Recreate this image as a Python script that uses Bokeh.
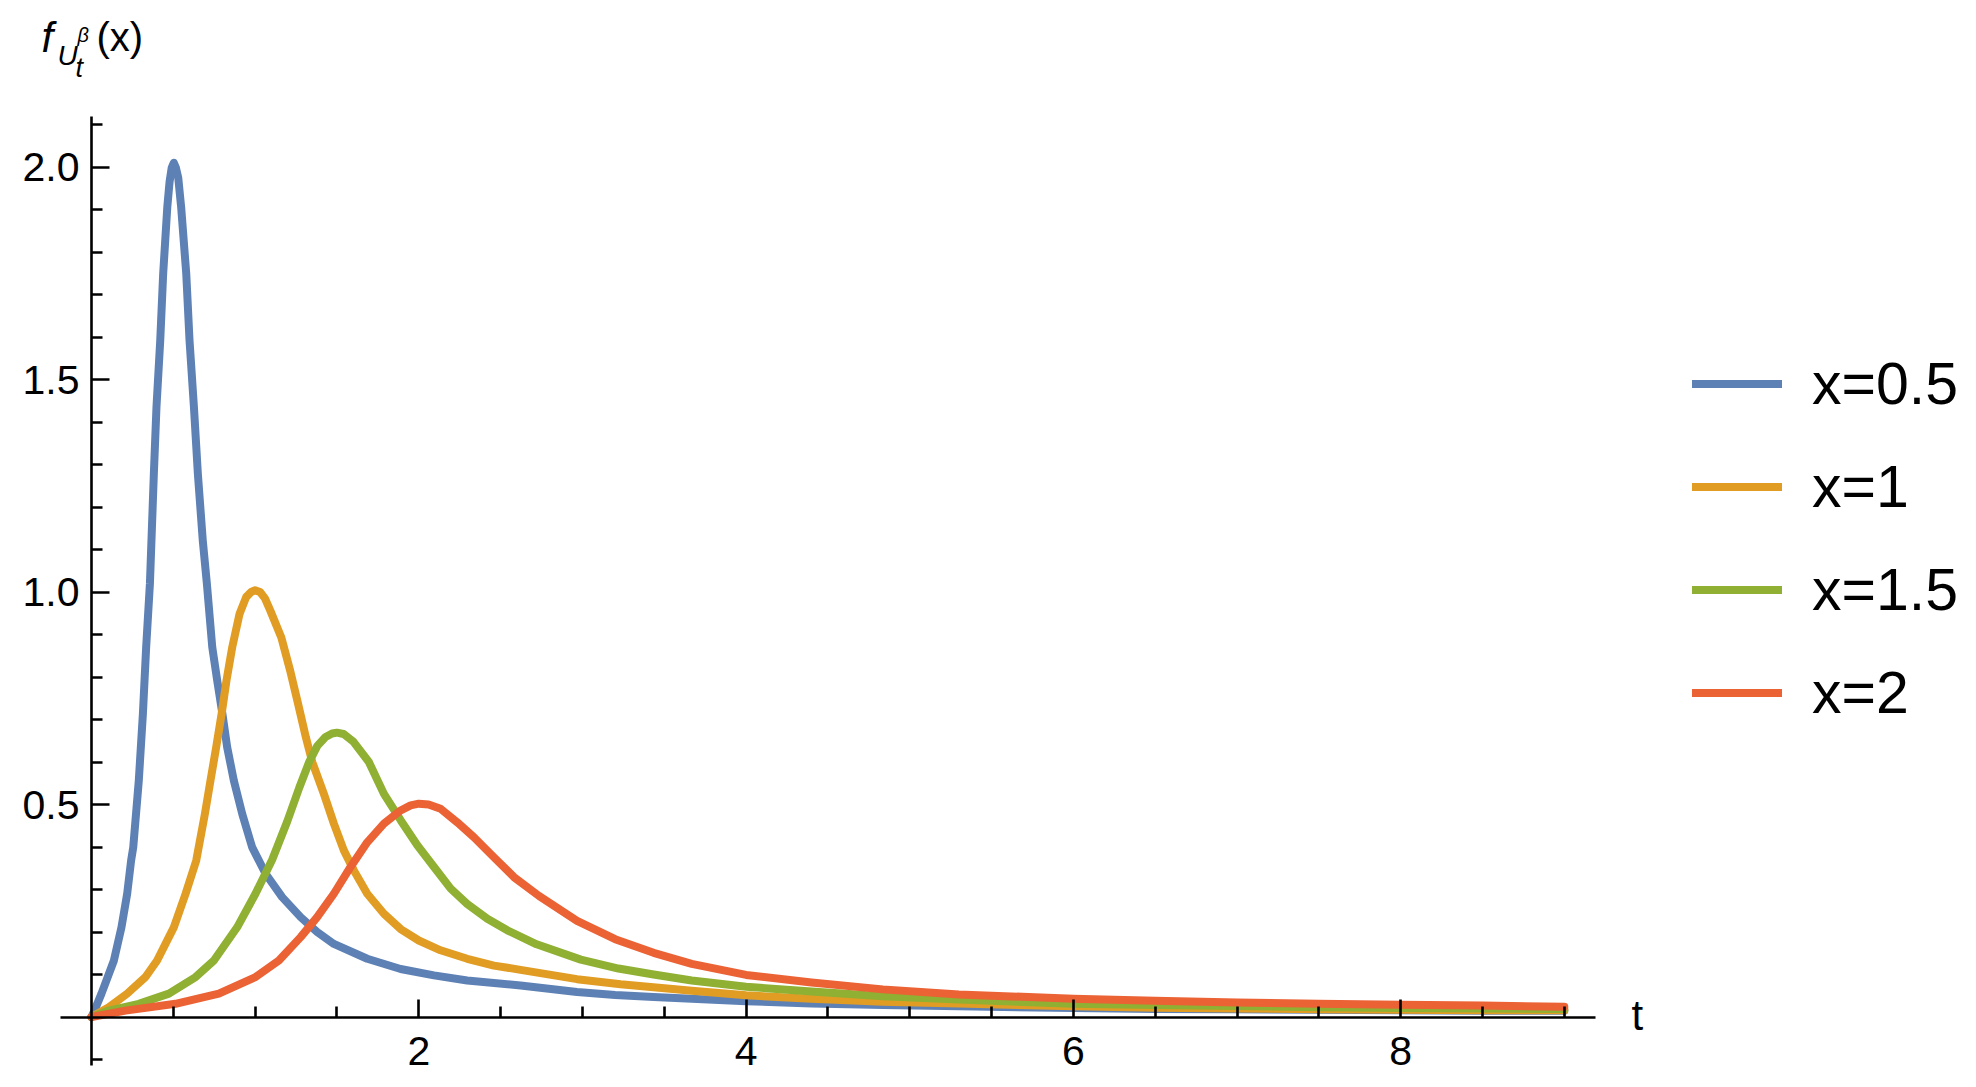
from bokeh.plotting import figure
from bokeh.models import (Range1d, FixedTicker, PrintfTickFormatter, Legend, LegendItem,
                          Label, ColumnDataSource)
from bokeh.embed import file_html
from bokeh.resources import INLINE

# ---------------- data ----------------
t_a = [0, 0.018, 0.061, 0.137, 0.183, 0.218, 0.242, 0.255, 0.289, 0.314, 0.334, 0.357,
       0.381, 0.397, 0.42, 0.438, 0.463, 0.477, 0.49, 0.503, 0.516, 0.53, 0.548, 0.579,
       0.599, 0.626, 0.65, 0.68, 0.705, 0.738, 0.768, 0.8, 0.829, 0.87, 0.921, 0.982,
       1.064, 1.165, 1.278, 1.379, 1.481, 1.685, 1.889, 2.093, 2.296, 2.622, 2.967, 3.2,
       3.435, 3.668, 4.0, 4.4, 4.836, 5.3, 6.0, 6.5, 7.0, 7.5, 8.0, 8.5, 9.0]
v_a = [0, 0.015, 0.055, 0.133, 0.211, 0.290, 0.368, 0.399, 0.556, 0.713, 0.870, 1.02,
       1.278, 1.435, 1.592, 1.749, 1.905, 1.965, 1.998, 2.01, 1.998, 1.975, 1.905, 1.749,
       1.592, 1.435, 1.278, 1.121, 1.02, 0.870, 0.792, 0.713, 0.635, 0.556, 0.478, 0.399,
       0.337, 0.282, 0.235, 0.200, 0.172, 0.137, 0.113, 0.098, 0.086, 0.074, 0.059, 0.052,
       0.047, 0.043, 0.037, 0.032, 0.028, 0.025, 0.021, 0.019, 0.018, 0.017, 0.016, 0.015,
       0.015]

t_b = [0, 0.106, 0.218, 0.33, 0.401, 0.503, 0.575, 0.64, 0.693, 0.727, 0.762, 0.795,
       0.825, 0.86, 0.905, 0.945, 0.975, 1.0, 1.03, 1.06, 1.094, 1.16, 1.214, 1.263, 1.31,
       1.349, 1.42, 1.481, 1.542, 1.603, 1.685, 1.787, 1.889, 2.0, 2.133, 2.296, 2.459,
       2.622, 2.967, 3.233, 3.668, 4.0, 4.4, 4.836, 5.3, 6.0, 6.5, 7.0, 7.5, 8.0, 8.5, 9.0]
v_b = [0, 0.023, 0.055, 0.094, 0.133, 0.211, 0.290, 0.368, 0.478, 0.556, 0.635, 0.713,
       0.792, 0.870, 0.949, 0.988, 1.0, 1.004, 1.0, 0.985, 0.955, 0.893, 0.815, 0.736,
       0.658, 0.600, 0.525, 0.455, 0.392, 0.345, 0.290, 0.243, 0.207, 0.180, 0.157, 0.137,
       0.121, 0.111, 0.089, 0.077, 0.062, 0.051, 0.043, 0.036, 0.032, 0.025, 0.022, 0.020,
       0.018, 0.017, 0.016, 0.016]

t_c = [0, 0.106, 0.289, 0.473, 0.636, 0.748, 0.89, 1.002, 1.104, 1.196, 1.27, 1.33,
       1.38, 1.43, 1.47, 1.5, 1.54, 1.6, 1.695, 1.787, 1.889, 1.991, 2.093, 2.195, 2.296,
       2.419, 2.541, 2.72, 2.99, 3.22, 3.435, 3.668, 4.0, 4.4, 4.836, 5.3, 6.0, 6.5, 7.0,
       7.5, 8.0, 8.5, 9.0]
v_c = [0, 0.015, 0.031, 0.055, 0.094, 0.133, 0.211, 0.290, 0.370, 0.460, 0.540, 0.600,
       0.638, 0.659, 0.667, 0.669, 0.666, 0.648, 0.600, 0.525, 0.463, 0.404, 0.353, 0.302,
       0.266, 0.231, 0.204, 0.171, 0.135, 0.114, 0.100, 0.086, 0.071, 0.060, 0.049, 0.041,
       0.031, 0.028, 0.026, 0.023, 0.021, 0.020, 0.019]

t_d = [0, 0.208, 0.513, 0.778, 1.002, 1.145, 1.278, 1.379, 1.481, 1.583, 1.685, 1.787,
       1.889, 1.95, 2.0, 2.06, 2.133, 2.235, 2.337, 2.459, 2.582, 2.734, 2.967, 3.2, 3.435,
       3.668, 4.0, 4.4, 4.836, 5.3, 6.0, 6.5, 7.0, 7.5, 8.0, 8.5, 9.0]
v_d = [0, 0.015, 0.031, 0.055, 0.094, 0.133, 0.188, 0.235, 0.290, 0.353, 0.411, 0.455,
       0.486, 0.498, 0.502, 0.500, 0.490, 0.458, 0.423, 0.376, 0.329, 0.285, 0.226, 0.183,
       0.151, 0.125, 0.099, 0.081, 0.065, 0.053, 0.043, 0.038, 0.034, 0.031, 0.029, 0.027,
       0.024]

series_labels = ["x=0.5", "x=1", "x=1.5", "x=2"]
series_colors = ["#5E81B5", "#E19C24", "#8FB032", "#EB6235"]

x_major = [2, 4, 6, 8]
x_minor = [0.5, 1, 1.5, 2.5, 3, 3.5, 4.5, 5, 5.5, 6.5, 7, 7.5, 8.5, 9]
y_major = [0.5, 1.0, 1.5, 2.0]
y_minor = [-0.1, 0.1, 0.2, 0.3, 0.4, 0.6, 0.7, 0.8, 0.9, 1.1, 1.2, 1.3, 1.4,
           1.6, 1.7, 1.8, 1.9, 2.1]

# ---------------- figure ----------------
FONT = "Liberation Sans"
W, H = 1960, 1081
DH = H - 1071               # shift for screen-unit annotations measured from the bottom
PX_T = 1535 / 9.38          # pixels per unit of t
PX_V = 949 / 2.233          # pixels per unit of value
x0 = -91 / PX_T
y0 = -(H - 1016.5) / PX_V
p = figure(frame_width=W, frame_height=H,
           x_range=Range1d(x0, x0 + W / PX_T), y_range=Range1d(y0, y0 + H / PX_V),
           output_backend="svg", toolbar_location=None,
           min_border_left=0, min_border_right=0, min_border_top=0, min_border_bottom=0)
p.outline_line_color = None
p.xgrid.visible = False
p.ygrid.visible = False
p.background_fill_color = "white"
p.border_fill_color = "white"

for ax in (p.xaxis[0], p.yaxis[0]):
    ax.fixed_location = 0
    ax.axis_line_color = "black"
    ax.axis_line_width = 2.6
    ax.major_tick_line_color = "black"
    ax.major_tick_line_width = 2.6
    ax.minor_tick_line_color = "black"
    ax.minor_tick_line_width = 2.6
    ax.major_tick_in = 18
    ax.major_tick_out = 0
    ax.minor_tick_in = 11
    ax.minor_tick_out = 0
    ax.major_label_text_font = FONT
    ax.major_label_text_font_size = "41px"
    ax.major_label_text_color = "black"

p.xaxis[0].bounds = (-0.19, 9.19)
p.yaxis[0].bounds = (-0.115, 2.118)
p.xaxis[0].ticker = FixedTicker(ticks=x_major, minor_ticks=x_minor)
p.yaxis[0].ticker = FixedTicker(ticks=y_major, minor_ticks=y_minor)
p.yaxis[0].formatter = PrintfTickFormatter(format="%.1f")
p.xaxis[0].major_label_standoff = 20
p.yaxis[0].major_label_standoff = 12

renderers = []
for tt, vv, col in zip([t_a, t_b, t_c, t_d], [v_a, v_b, v_c, v_d], series_colors):
    src = ColumnDataSource(dict(t=tt, v=vv))
    r = p.line("t", "v", source=src, line_color=col, line_width=8,
               line_join="round", line_cap="round")
    renderers.append(r)

legend = Legend(items=[LegendItem(label=lab, renderers=[r])
                       for lab, r in zip(series_labels, renderers)],
                location=(1692, 327 + DH), orientation="vertical",
                glyph_width=90, glyph_height=103, label_height=103, spacing=0,
                label_standoff=30, padding=0, margin=0,
                border_line_color=None, background_fill_alpha=0,
                label_text_font=FONT, label_text_font_size="59px",
                label_text_color="black")
p.add_layout(legend, "center")

# axis titles built from text pieces (screen units from bottom-left of the canvas)
def lab(txt, x, y, size, style="normal"):
    p.add_layout(Label(x=x, y=y + DH, x_units="screen", y_units="screen", text=txt,
                       text_font=FONT, text_font_size=size, text_font_style=style,
                       text_color="black", text_align="left",
                       text_baseline="alphabetic"))

lab("f", 41, 1034, "42px", "italic")
lab("U", 57, 1016, "28px", "italic")
lab("β", 77, 1037, "20px", "italic")
lab("t", 75, 1004, "27px", "italic")
lab("(x)", 96, 1035, "40px")
lab("t", 1631, 56, "42px")

open("out.html", "w").write(file_html(p, INLINE))
